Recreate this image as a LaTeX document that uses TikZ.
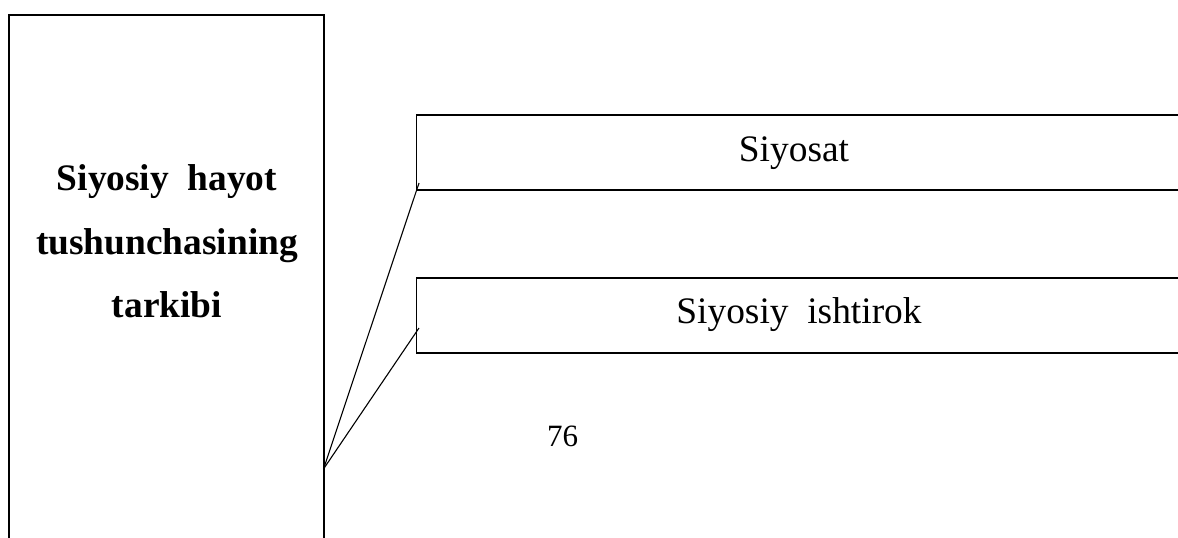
\documentclass[tikz,border=0pt]{standalone}
\usepackage{fontspec}
\setmainfont{Liberation Serif}
\begin{document}
\begin{tikzpicture}[x=1pt,y=-1pt,
  frame/.style={draw=black,line width=1.5pt,inner sep=0pt},
  bigtxt/.style={font=\fontsize{37.4}{44}\selectfont\bfseries,anchor=base,inner sep=0pt},
  boxtxt/.style={font=\fontsize{37.4}{44}\selectfont,anchor=base,inner sep=0pt},
  link/.style={draw=black,line width=1.1pt}]
\useasboundingbox (0,0) rectangle (1178,538);
\clip (0,0) rectangle (1178,538);
% left tall box (runs off the bottom)
\node[frame,minimum width=315pt,minimum height=560pt] (left) at (166.5,295) {};
\node[bigtxt] (l1) at (167,190) {Siyosiy\ \ hayot};
\node[bigtxt] (l2) at (167,254) {tushunchasining};
\node[bigtxt] (l3) at (167,317) {tarkibi};
% right boxes (run off the right edge)
\node[frame,minimum width=770pt,minimum height=75pt] (b1) at (801.5,152.5) {};
\node[frame,minimum width=770pt,minimum height=75pt] (b2) at (801.5,315.5) {};
\node[boxtxt] (t1) at (794,161) {Siyosat};
\node[boxtxt] (t2) at (799,323) {Siyosiy\ \ ishtirok};
% connectors
\coordinate (hub) at (323.5,469);
\coordinate (e1) at (419,183);
\coordinate (e2) at (419,328);
\draw[link] (hub) -- (e1);
\draw[link] (hub) -- (e2);
% page number
\node[font=\fontsize{31}{36}\selectfont,anchor=base,inner sep=0pt] (pg) at (562.5,446) {76};
\end{tikzpicture}
\end{document}
